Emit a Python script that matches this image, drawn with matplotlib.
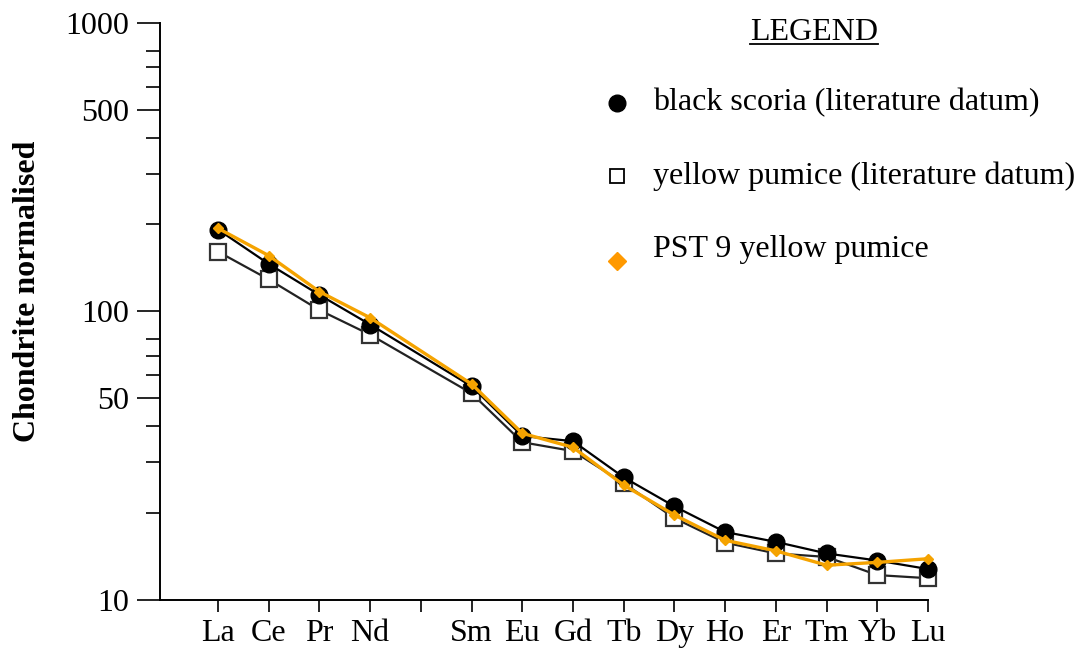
import numpy as np
import matplotlib
matplotlib.use('Agg')
import matplotlib.pyplot as plt
from matplotlib.lines import Line2D
from matplotlib.ticker import FixedLocator, NullFormatter

plt.rcParams['font.family'] = ['Liberation Serif', 'DejaVu Serif']

# REE sequence (Pm slot left empty)
elements = ['La', 'Ce', 'Pr', 'Nd', '', 'Sm', 'Eu', 'Gd', 'Tb', 'Dy', 'Ho', 'Er', 'Tm', 'Yb', 'Lu']
ree = ['La', 'Ce', 'Pr', 'Nd', 'Sm', 'Eu', 'Gd', 'Tb', 'Dy', 'Ho', 'Er', 'Tm', 'Yb', 'Lu']

# chondrite normalised values
black_scoria = [192, 146, 114, 90, 55, 37, 35.5, 26.6, 21.1, 17.2, 15.9, 14.5, 13.7, 12.8]
yellow_pumice = [161, 129, 101, 83, 52, 35.2, 32.8, 25.4, 19.2, 15.8, 14.5, 14.1, 12.2, 11.9]
pst9 = [194, 156, 117, 95, 56, 37.8, 33.8, 25.0, 19.7, 16.1, 14.8, 13.2, 13.5, 13.9]

legend_labels = ['black scoria (literature datum)', 'yellow pumice (literature datum)',
                 'PST 9 yellow pumice']

orange = '#F5A300'

W, H = 1086, 652
fig = plt.figure(figsize=(W / 100., H / 100.), dpi=100)
ax = fig.add_axes([160. / W, 1 - 600. / H, (928. - 160.) / W, (600. - 22.7) / H])

xpos = np.array([elements.index(e) for e in ree])

ax.plot(xpos, yellow_pumice, color='#222222', lw=1.6, marker='s', ms=11,
        mfc='white', mec='#333333', mew=1.6, zorder=2, clip_on=False)
ax.plot(xpos, black_scoria, color='black', lw=1.6, marker='o', ms=12,
        mfc='black', mec='black', zorder=3, clip_on=False)
ax.plot(xpos, pst9, color=orange, lw=2.4, marker='D', ms=5,
        mfc=orange, mec=orange, zorder=4, clip_on=False)

ax.set_yscale('log')
ax.set_ylim(10, 1000)
ax.set_xlim((160. - 218.) / 50.7, 14)

ax.yaxis.set_major_locator(FixedLocator([10, 50, 100, 500, 1000]))
ax.yaxis.set_minor_locator(FixedLocator([20, 30, 40, 60, 70, 80, 200, 300, 400, 600, 700, 800]))
ax.yaxis.set_minor_formatter(NullFormatter())
ax.set_yticklabels(['10', '50', '100', '500', '1000'])

ax.set_xticks(range(len(elements)))
ax.set_xticklabels(elements)

for s in ['top', 'right']:
    ax.spines[s].set_visible(False)
for s in ['left', 'bottom']:
    ax.spines[s].set_linewidth(1.4)

ax.tick_params(axis='y', which='major', length=16.5, width=1.2, labelsize=23, pad=6)
ax.tick_params(axis='y', which='minor', length=10, width=1.2)
ax.tick_params(axis='x', which='major', length=8.5, width=1.2, labelsize=23, pad=5)

ax.set_ylabel('Chondrite normalised', fontsize=23, fontweight='bold')
ax.yaxis.set_label_coords(-0.154, 0.535)

# legend, drawn by hand to match the original layout
fig.text(814. / W, 1 - 32. / H, 'LEGEND', fontsize=23, ha='center', va='center')
fig.canvas.draw()
bb = fig.texts[0].get_window_extent()
fig.add_artist(Line2D([bb.x0 / W, bb.x1 / W], [(bb.y0 + 3) / H, (bb.y0 + 3) / H],
                      color='black', lw=1.3, transform=fig.transFigure))

rows = [103, 176, 250]
marks = [dict(marker='o', ms=12, mfc='black', mec='black'),
         dict(marker='s', ms=10, mfc='white', mec='black', mew=1.3),
         dict(marker='D', ms=9, mfc='#FF9900', mec='#FF9900')]
moff = [0, 0, 11]
for y, lab, m, dy in zip(rows, legend_labels, marks, moff):
    fig.add_artist(Line2D([617. / W], [1 - (y + dy) / H], ls='none',
                          transform=fig.transFigure, **m))
    fig.text(653. / W, 1 - y / H, lab, fontsize=23, ha='left', va='center')

fig.savefig('out.png', dpi=100)
